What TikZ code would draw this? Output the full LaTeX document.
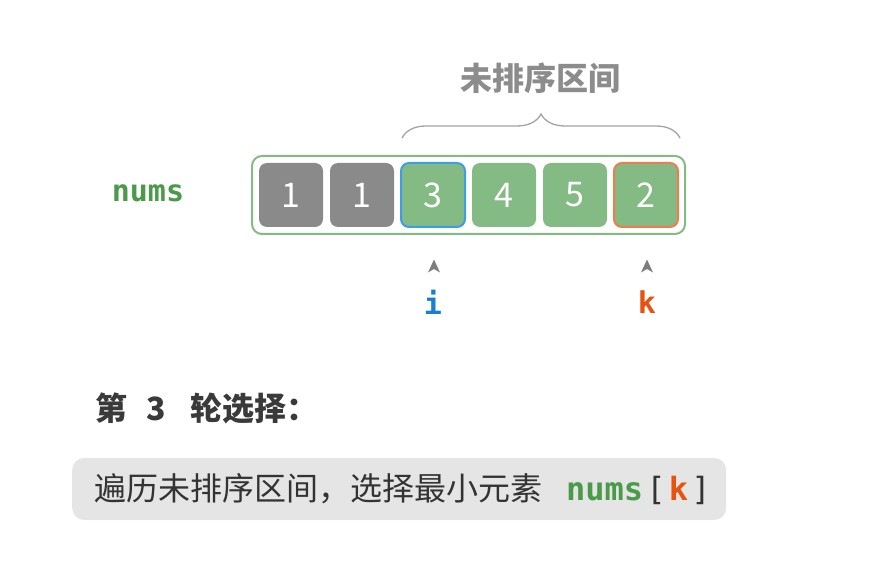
\documentclass[tikz,border=0pt]{standalone}
\usepackage{fontspec}
\setmainfont{Noto Sans CJK SC}
\setmonofont{DejaVu Sans Mono}
\usetikzlibrary{positioning, fit, decorations.pathreplacing}

\definecolor{cellgray}{HTML}{8A8A8A}
\definecolor{cellgreen}{HTML}{84BA84}
\definecolor{numsgreen}{HTML}{4A9A4A}
\definecolor{ptrblue}{HTML}{3D9EE8}
\definecolor{iblue}{HTML}{1A7FD0}
\definecolor{kred}{HTML}{F07C4C}
\definecolor{korange}{HTML}{E8520F}
\definecolor{titlegray}{HTML}{8C8C8C}
\definecolor{headgray}{HTML}{3A3A3A}
\definecolor{boxgray}{HTML}{E5E5E5}
\definecolor{textgray}{HTML}{333333}

\begin{document}
\begin{tikzpicture}[x=1pt, y=1pt, node distance=7pt,
  cell/.style={minimum width=64pt, minimum height=64pt, inner sep=0pt, outer sep=0pt, rounded corners=8pt,
    fill=cellgreen, text=white, line width=2pt, font=\fontsize{34}{38}\selectfont},
  monolbl/.style={font=\ttfamily\bfseries\fontsize{30}{34}\selectfont},
  cjk/.style={font=\fontsize{32}{36}\selectfont}]

\useasboundingbox (0,0) rectangle (896,584);

% Array
\node (c1) [cell, fill=cellgray] at (291,389) {1};
\node (c2) [cell, fill=cellgray, right=of c1] {1};
\node (c3) [cell, draw=ptrblue, right=of c2] {3};
\node (c4) [cell, right=of c3] {4};
\node (c5) [cell, right=of c4] {5};
\node (c6) [cell, draw=kred, right=of c5] {2};
\node (arr) [fit=(c1)(c6), inner sep=7pt, draw=cellgreen, line width=2pt, rounded corners=10pt] {};
\node (numslbl) [monolbl, text=numsgreen] at (148,391) {nums};

% Unsorted range
\draw[decorate, decoration={brace, amplitude=24pt}, draw=titlegray!80, line width=1.3pt] (402,446) -- (680,446);
\node (title) [cjk, font=\bfseries\fontsize{32}{36}\selectfont, text=titlegray] at (540,506) {未排序区间};

% Pointers
\node (ilbl) [monolbl, text=iblue] at (433,282) {i};
\node (klbl) [monolbl, text=korange] at (647,282) {k};
\coordinate (itip) at (434,318);
\coordinate (ktip) at (647,318);
\fill[titlegray!90!black] (itip) +(-6,-6.5) -- +(0,6.5) -- +(6,-6.5) -- +(0,-3) -- cycle;
\fill[titlegray!90!black] (ktip) +(-6,-6.5) -- +(0,6.5) -- +(6,-6.5) -- +(0,-3) -- cycle;

% Step text
\node (roundlbl) [anchor=west, text=headgray, font=\bfseries\fontsize{32}{36}\selectfont] at (92,176)
  {第\hspace{0.6em}3\hspace{0.75em}轮选择：};
\node (desc) [anchor=west, fill=boxgray, rounded corners=12pt, minimum height=62pt,
  inner xsep=22pt, text=textgray, cjk] at (72,95)
  {\makebox[610pt][l]{遍历未排序区间，选择最小元素\hspace{0.75em}{\ttfamily\bfseries\color{numsgreen}nums}\hspace{0.1em}{\ttfamily[}\hspace{0.1em}{\ttfamily\bfseries\color{korange}k}\hspace{0.1em}{\ttfamily]}}};

\end{tikzpicture}
\end{document}
